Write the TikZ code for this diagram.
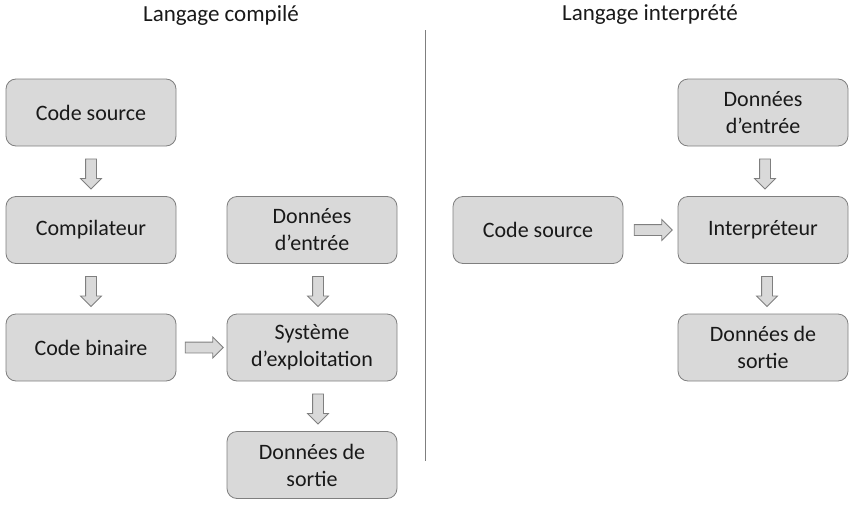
\documentclass[tikz,border=0pt]{standalone}
\usepackage{fontspec}
\setmainfont{Carlito}
\usetikzlibrary{shapes.arrows,calc}
\definecolor{boxfill}{HTML}{D9D9D9}
\definecolor{boxline}{HTML}{7F7F7F}
\begin{document}
\begin{tikzpicture}[x=1pt,y=-1pt,
  box/.style={draw=boxline, fill=boxfill, rounded corners=10pt, minimum width=170pt, minimum height=67pt, align=center, font=\fontsize{22}{27}\selectfont, text=black!90, line width=0.8pt},
  blockarrow/.style={single arrow, draw=boxline, fill=boxfill, line width=0.8pt, inner sep=5pt, single arrow head extend=5pt, minimum height=30pt, single arrow tip angle=90, anchor=center},
  title/.style={font=\fontsize{23}{27}\selectfont, text=black!90}]
\useasboundingbox (0,0) rectangle (856,506);
\node[title] (t1) at (221,15) {Langage compilé};
\node[title] (t2) at (650,15) {Langage interprété};
\coordinate (ltop) at (425,30);
\coordinate (lbot) at (425,461);
\draw[boxline, line width=0.8pt] (ltop) -- (lbot);
% left
\node[box] (cs) at (91,112.5) {Code source};
\node[box] (comp) at (91,230) {Compilateur};
\node[box] (bin) at (91,347.5) {Code binaire};
\node[box] (de) at (312,230) {Données\\d’entrée};
\node[box] (os) at (312,347.5) {Système\\d’exploitation};
\node[box] (ds) at (312,465) {Données de\\sortie};
% right
\node[box] (rde) at (763,112.5) {Données\\d’entrée};
\node[box] (rcs) at (538,230) {Code source};
\node[box] (interp) at (763,230) {Interpréteur};
\node[box] (rds) at (763,347.5) {Données de\\sortie};
% arrows
\node[blockarrow, shape border rotate=270] (a1) at ($(cs.south)!0.5!(comp.north)$) {};
\node[blockarrow, shape border rotate=270] (a2) at ($(comp.south)!0.5!(bin.north)$) {};
\node[blockarrow, minimum height=38pt] (a3) at ($(bin.east)!0.5!(os.west)$) {};
\node[blockarrow, shape border rotate=270] (a4) at ($(de.south)!0.5!(os.north)+(6,0)$) {};
\node[blockarrow, shape border rotate=270] (a5) at ($(os.south)!0.5!(ds.north)+(6,0)$) {};
\node[blockarrow, shape border rotate=270] (a6) at ($(rde.south)!0.5!(interp.north)+(2,0)$) {};
\node[blockarrow, minimum height=38pt] (a7) at ($(rcs.east)!0.5!(interp.west)$) {};
\node[blockarrow, shape border rotate=270] (a8) at ($(interp.south)!0.5!(rds.north)+(4,0)$) {};
\end{tikzpicture}
\end{document}
